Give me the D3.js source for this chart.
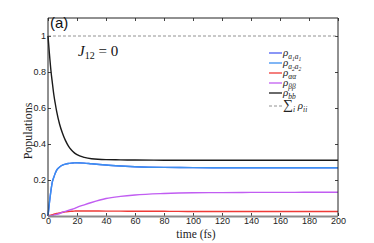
<!DOCTYPE html>
<html>
<head>
<meta charset="utf-8">
<script src="https://cdn.jsdelivr.net/npm/d3@7"></script>
<style>
  body { margin: 0; background: #fff; }
  svg { display: block; }
  .tick text { font-family: "Liberation Sans", Arial, sans-serif; font-size: 9px; fill: #222; }
</style>
</head>
<body>
<div id="chart"></div>
<script>
const width = 374;
const height = 243;
const margin = { top: 18, right: 36, bottom: 27, left: 48 };

// data
const times = [0, 1, 2, 3, 4, 5, 6, 8, 10, 12, 14, 16, 18, 20, 25, 30, 40, 50, 60, 80, 100, 120, 140, 160, 180, 200];
const rhoBB = [1.0, 0.9, 0.81, 0.74, 0.675, 0.625, 0.58, 0.51, 0.46, 0.42, 0.39, 0.368, 0.352, 0.341, 0.326, 0.318, 0.313, 0.312, 0.311, 0.31, 0.31, 0.31, 0.31, 0.31, 0.31, 0.31];
const rhoA2 = [0, 0.075, 0.14, 0.19, 0.215, 0.238, 0.255, 0.272, 0.282, 0.288, 0.292, 0.294, 0.295, 0.296, 0.294, 0.29, 0.283, 0.278, 0.274, 0.27, 0.269, 0.268, 0.268, 0.268, 0.268, 0.268];
const rhoA1 = rhoA2.slice(); // a1a1 lies under a2a2
const rhoAA = [0, 0.003, 0.005, 0.008, 0.01, 0.012, 0.014, 0.017, 0.021, 0.023, 0.025, 0.026, 0.027, 0.028, 0.028, 0.028, 0.027, 0.027, 0.026, 0.026, 0.025, 0.025, 0.025, 0.025, 0.025, 0.025];
const rhoBetaBeta = [0, 0.001, 0.002, 0.003, 0.005, 0.007, 0.009, 0.014, 0.021, 0.026, 0.031, 0.036, 0.041, 0.048, 0.062, 0.075, 0.097, 0.109, 0.117, 0.125, 0.129, 0.13, 0.131, 0.131, 0.132, 0.132];
const sumAll = times.map(() => 1);

const xTicks = [0, 20, 40, 60, 80, 100, 120, 140, 160, 180, 200];
const yTicks = [0, 0.2, 0.4, 0.6, 0.8, 1];
const yTickLabels = ["0", "0.2", "0.4", "0.6", "0.8", "1"];

const series = [
  { name: "a1a1", values: rhoA1, color: "#4b5df2", dash: null, label: [["ρ", 0], ["a", 1], ["1", 2], ["a", 1], ["1", 2]] },
  { name: "a2a2", values: rhoA2, color: "#3b8ff0", dash: null, label: [["ρ", 0], ["a", 1], ["2", 2], ["a", 1], ["2", 2]] },
  { name: "aa", values: rhoAA, color: "#ee3a36", dash: null, label: [["ρ", 0], ["αα", 1]] },
  { name: "bb2", values: rhoBetaBeta, color: "#c15df2", dash: null, label: [["ρ", 0], ["ββ", 1]] },
  { name: "bb", values: rhoBB, color: "#1a1a1a", dash: null, label: [["ρ", 0], ["bb", 1]] },
  { name: "sum", values: sumAll, color: "#777", dash: "3,2", label: [["∑", 0], ["i", 1], [" ρ", 0], ["ii", 1]] }
];

const svg = d3.select("#chart").append("svg")
  .attr("width", width)
  .attr("height", height);

const x = d3.scaleLinear().domain([0, 200]).range([margin.left, width - margin.right]);
const y = d3.scaleLinear().domain([0, 1.1]).range([height - margin.bottom, margin.top]);

const plotL = margin.left, plotR = width - margin.right;
const plotT = margin.top, plotB = height - margin.bottom;

// axes with inward ticks
svg.append("g")
  .attr("transform", `translate(0,${plotB})`)
  .call(d3.axisBottom(x).tickValues(xTicks).tickSize(-3).tickPadding(2).tickFormat(d3.format("d")))
  .call(g => g.select(".domain").remove())
  .call(g => g.selectAll(".tick line").attr("stroke", "#444"));

svg.append("g")
  .attr("transform", `translate(0,${plotT})`)
  .call(d3.axisTop(x).tickValues(xTicks).tickSize(-3).tickFormat(""))
  .call(g => g.select(".domain").remove())
  .call(g => g.selectAll(".tick line").attr("stroke", "#444"));

svg.append("g")
  .attr("transform", `translate(${plotL},0)`)
  .call(d3.axisLeft(y).tickValues(yTicks).tickSize(-3).tickPadding(2).tickFormat((d, i) => yTickLabels[i]))
  .call(g => g.select(".domain").remove())
  .call(g => g.selectAll(".tick line").attr("stroke", "#444"));

svg.append("g")
  .attr("transform", `translate(${plotR},0)`)
  .call(d3.axisRight(y).tickValues(yTicks).tickSize(-3).tickFormat(""))
  .call(g => g.select(".domain").remove())
  .call(g => g.selectAll(".tick line").attr("stroke", "#444"));

// curves
const line = d3.line()
  .x((d, i) => x(times[i]))
  .y(d => y(d))
  .curve(d3.curveMonotoneX);

series.forEach(s => {
  svg.append("path")
    .datum(s.values)
    .attr("fill", "none")
    .attr("stroke", s.color)
    .attr("stroke-width", s.dash ? 0.8 : 1.4)
    .attr("stroke-dasharray", s.dash)
    .attr("d", line);
});

// frame
svg.append("path")
  .attr("d", `M${plotL},${plotB}V${plotT}H${plotR}V${plotB}`)
  .attr("fill", "none")
  .attr("stroke", "#222")
  .attr("stroke-width", 1);
svg.append("line")
  .attr("x1", plotL).attr("x2", plotR)
  .attr("y1", plotB + 0.5).attr("y2", plotB + 0.5)
  .attr("stroke", "#8a8a8a")
  .attr("stroke-width", 2);

// labels
svg.append("text")
  .attr("transform", `translate(32,${(plotT + plotB) / 2 + 14}) rotate(-90)`)
  .attr("text-anchor", "middle")
  .attr("font-family", "'Liberation Serif', serif")
  .attr("font-size", 12)
  .attr("fill", "#222")
  .text("Populations");

svg.append("text")
  .attr("x", 196)
  .attr("y", 238)
  .attr("text-anchor", "middle")
  .attr("font-family", "'Liberation Serif', serif")
  .attr("font-size", 11.5)
  .attr("fill", "#222")
  .text("time (fs)");

svg.append("text")
  .attr("x", 50)
  .attr("y", 28)
  .attr("font-family", "'Liberation Sans', Arial, sans-serif")
  .attr("font-size", 15)
  .attr("fill", "#111")
  .text("(a)");

const jText = svg.append("text")
  .attr("x", 78)
  .attr("y", 56)
  .attr("font-family", "'Liberation Serif', serif")
  .attr("font-size", 15)
  .attr("fill", "#111");
jText.append("tspan").attr("font-style", "italic").text("J");
jText.append("tspan").attr("font-size", 10).attr("dy", 3).text("12");
jText.append("tspan").attr("dy", -3).text(" = 0");

// legend
const legendY = [53, 63, 73, 83, 93, 106];
const legend = svg.append("g");
series.forEach((s, i) => {
  const ly = legendY[i];
  legend.append("line")
    .attr("x1", 269).attr("x2", 282)
    .attr("y1", ly).attr("y2", ly)
    .attr("stroke", s.color)
    .attr("stroke-width", s.dash ? 0.8 : 1.3)
    .attr("stroke-dasharray", s.dash);
  const t = legend.append("text")
    .attr("x", 283)
    .attr("y", ly + 3)
    .attr("font-family", "'Liberation Serif', serif")
    .attr("font-style", "italic")
    .attr("fill", "#222");
  let level = 0;
  s.label.forEach(([str, lv]) => {
    const dy = (lv - level) * 2.5;
    const size = lv === 0 ? (str === "∑" ? 14 : 11) : lv === 1 ? 7.5 : 5.5;
    t.append("tspan")
      .attr("dy", dy)
      .attr("font-size", size)
      .attr("font-style", str === "∑" ? "normal" : "italic")
      .text(str);
    level = lv;
  });
});
</script>
</body>
</html>
